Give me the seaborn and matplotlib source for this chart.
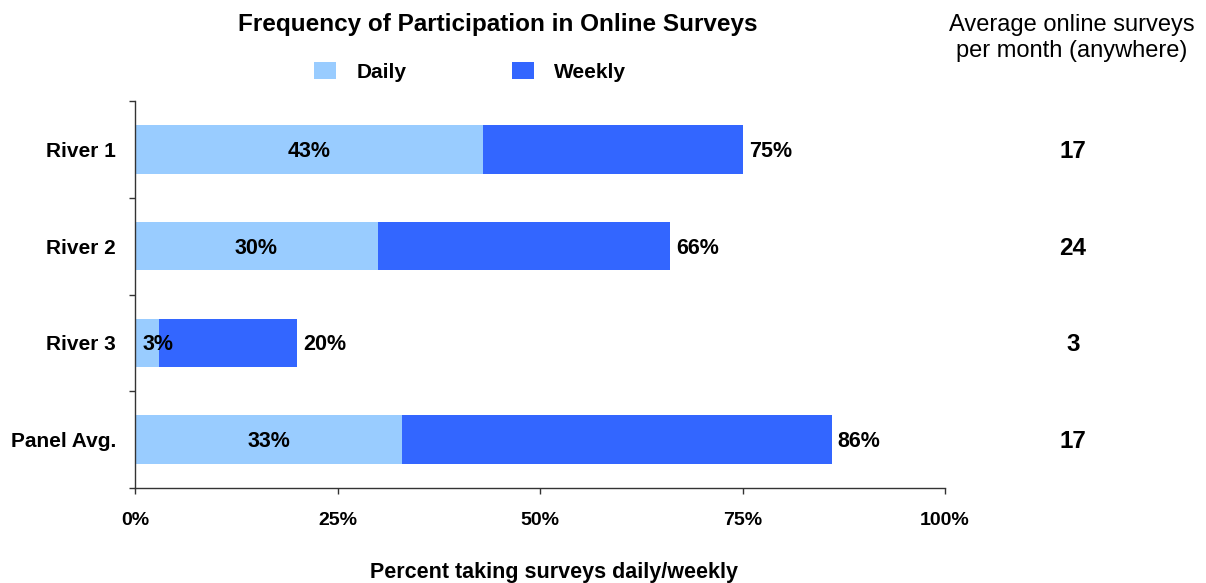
import pandas as pd
import matplotlib
matplotlib.use("Agg")
import matplotlib.pyplot as plt
import matplotlib.transforms as mtransforms
from matplotlib.patches import Patch
import seaborn as sns

groups = ["River 1", "River 2", "River 3", "Panel Avg."]
daily = [43, 30, 3, 33]
weekly = [75, 66, 20, 86]   # cumulative: daily + weekly
per_month = [17, 24, 3, 17]
x_ticks = [0, 25, 50, 75, 100]

light = "#99CCFF"
dark = "#3366FF"

sns.set_style("white")
plt.rcParams["font.family"] = ["Liberation Sans", "DejaVu Sans"]
plt.rcParams["text.color"] = "black"
plt.rcParams["xtick.color"] = "black"
plt.rcParams["ytick.color"] = "black"
plt.rcParams["axes.labelcolor"] = "black"

df = pd.DataFrame({"group": groups, "daily": daily, "weekly": weekly})

fig = plt.figure(figsize=(12.06, 5.83), dpi=100)
ax = fig.add_axes([135 / 1206, 1 - 488 / 583, 810 / 1206, 387 / 583])

sns.barplot(data=df, y="group", x="weekly", color=dark, width=0.5,
            saturation=1, ax=ax, orient="h")
sns.barplot(data=df, y="group", x="daily", color=light, width=0.5,
            saturation=1, ax=ax, orient="h")
for p in ax.patches:
    p.set_edgecolor("none")

ax.set_xlim(0, 100)
ax.set_ylim(3.5, -0.5)
ax.set_xticks(x_ticks)
ax.set_xticklabels([f"{t}%" for t in x_ticks], fontsize=14, fontweight="bold")
ax.set_yticks(range(len(groups)))
ax.set_yticklabels(groups, fontsize=15, fontweight="bold")
ax.set_yticks([-0.5, 0.5, 1.5, 2.5, 3.5], minor=True)
ax.tick_params(axis="y", which="major", length=0, pad=13.5)
ax.tick_params(axis="y", which="minor", length=4.3, width=1, color="#333333",
               direction="out", left=True)
ax.tick_params(axis="x", length=4.3, width=1, color="#333333", direction="out",
               pad=13, bottom=True)
ax.set_ylabel("")
ax.set_xlabel("Percent taking surveys daily/weekly", fontsize=15.5,
              fontweight="bold")
ax.xaxis.set_label_coords((554 - 135) / 810, -(562 - 488) / 387)

sns.despine(ax=ax)
for s in ["left", "bottom"]:
    ax.spines[s].set_color("#333333")
    ax.spines[s].set_linewidth(1)

for i, (d, w) in enumerate(zip(daily, weekly)):
    ax.text(max(d / 2, 2.85), i + 0.02, f"{d}%", ha="center", va="center",
            fontsize=15.5, fontweight="bold")
    ax.annotate(f"{w}%", (w, i + 0.02), xytext=(4.5, 0), textcoords="offset points",
                ha="left", va="center", fontsize=15.5, fontweight="bold")

trans = mtransforms.blended_transform_factory(fig.transFigure, ax.transData)
for i, n in enumerate(per_month):
    ax.text(1073 / 1206, i + 0.02, str(n), transform=trans, ha="center",
            va="center", fontsize=17.5, fontweight="bold", clip_on=False)

fig.text(498 / 1206, 1 - 24 / 583, "Frequency of Participation in Online Surveys",
         ha="center", va="center", fontsize=17.5, fontweight="bold")
fig.text(1072 / 1206, 1 - 38 / 583, "Average online surveys\nper month (anywhere)",
         ha="center", va="center", fontsize=17, linespacing=1.27)

handles = [Patch(facecolor=light, edgecolor="none", label="Daily"),
           Patch(facecolor=dark, edgecolor="none", label="Weekly")]
leg = fig.legend(handles=handles, loc="center", ncol=2, frameon=False,
                 bbox_to_anchor=(470 / 1206, 1 - 72 / 583),
                 prop={"size": 15, "weight": "bold"},
                 handlelength=1.06, handleheight=0.82, handletextpad=0.96,
                 columnspacing=5.05, borderpad=0, borderaxespad=0)

fig.savefig("out.png", dpi=100)
plt.close(fig)
